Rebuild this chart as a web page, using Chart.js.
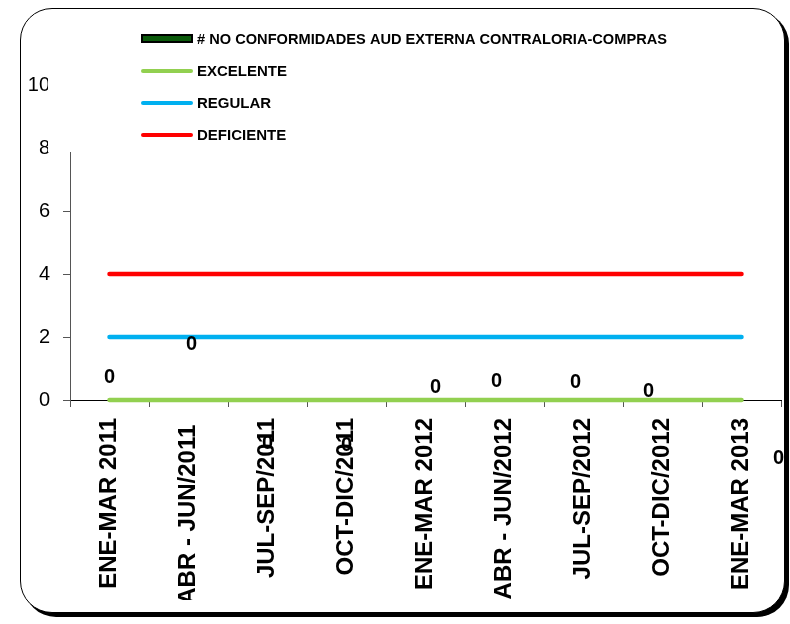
<!DOCTYPE html>
<html>
<head>
<meta charset="utf-8">
<script src="https://cdn.jsdelivr.net/npm/chart.js@4"></script>
<style>
  html, body { margin: 0; padding: 0; background: #fff; }
  #marco {
    position: absolute; left: 20px; top: 8px; width: 763px; height: 603px;
    border: 1.5px solid #000; border-radius: 32px;
    box-shadow: 4px 4px 0 #000; background: #fff;
  }
  #grafico { position: absolute; left: 0; top: 0; }
</style>
</head>
<body>
<div id="marco"></div>
<canvas id="grafico" width="790" height="624"></canvas>
<script>
// datos
const periodos = ['ENE-MAR 2011', 'ABR - JUN/2011 ', 'JUL-SEP/2011', 'OCT-DIC/2011', 'ENE-MAR 2012',
                  'ABR - JUN/2012', 'JUL-SEP/2012', 'OCT-DIC/2012', 'ENE-MAR 2013'];
const noConformidades = [0, 0, 0, 0, 0, 0, 0, 0, 0];
const excelente  = [0, 0, 0, 0, 0, 0, 0, 0, 0];
const regular    = [2, 2, 2, 2, 2, 2, 2, 2, 2];
const deficiente = [4, 4, 4, 4, 4, 4, 4, 4, 4];
const ticksY = [0, 2, 4, 6, 8, 10];

// desplazamiento de las etiquetas "0" (como las dejó Excel)
const despEtiquetas = [[0, -23], [3, -56], [0, 43], [0, 45], [10, -13], [-8, -19], [-8, -18], [-14, -9], [37, 58]];

const FUENTE = "'Liberation Sans', Arial, sans-serif";

const COR = {
  barra: '#0B5A0B',
  excelente: '#92D050',
  regular: '#00B0F0',
  deficiente: '#FF0000',
};

const etiquetasCero = {
  id: 'etiquetasCero',
  afterDatasetsDraw(chart) {
    const ctx = chart.ctx;
    const meta = chart.getDatasetMeta(0);
    ctx.save();
    ctx.font = `bold 20px ${FUENTE}`;
    ctx.fillStyle = '#000';
    ctx.textAlign = 'center';
    ctx.textBaseline = 'middle';
    meta.data.forEach((el, i) => {
      const [dx, dy] = despEtiquetas[i];
      ctx.fillText(String(noConformidades[i]), el.x + dx, el.y + dy);
    });
    ctx.restore();
  }
};

// leyenda encima del área del gráfico, con fondo blanco
const leyenda = {
  id: 'leyenda',
  afterDraw(chart) {
    const ctx = chart.ctx;
    ctx.save();
    ctx.fillStyle = '#fff';
    ctx.fillRect(48, 15, 640, 137);
    ctx.font = `bold 15px ${FUENTE}`;
    ctx.textBaseline = 'middle';
    chart.data.datasets.forEach((ds, i) => {
      const y = 39 + i * 32;
      if (ds.type === 'line') {
        ctx.strokeStyle = ds.borderColor;
        ctx.lineWidth = 4;
        ctx.lineCap = 'round';
        ctx.beginPath();
        ctx.moveTo(143, y);
        ctx.lineTo(191, y);
        ctx.stroke();
      } else {
        ctx.fillStyle = ds.backgroundColor;
        ctx.strokeStyle = '#000';
        ctx.lineWidth = 2;
        ctx.fillRect(142, y - 4, 50, 7);
        ctx.strokeRect(142, y - 4, 50, 7);
      }
      ctx.fillStyle = '#000';
      ctx.fillText(ds.label, 197, y + 1, 470);
    });
    ctx.restore();
  }
};

const linea = (label, data, color) => ({
  type: 'line', label, data,
  borderColor: color, backgroundColor: color,
  borderWidth: 4.5, borderCapStyle: 'round',
  pointRadius: 0, tension: 0, clip: false,
});

new Chart(document.getElementById('grafico'), {
  type: 'bar',
  data: {
    labels: periodos,
    datasets: [
      {
        label: '# NO CONFORMIDADES AUD EXTERNA CONTRALORIA-COMPRAS',
        data: noConformidades,
        backgroundColor: COR.barra,
        borderColor: '#000',
        borderWidth: 1,
        order: 2,
      },
      { ...linea('EXCELENTE', excelente, COR.excelente), order: 1 },
      { ...linea('REGULAR', regular, COR.regular), order: 1 },
      { ...linea('DEFICIENTE', deficiente, COR.deficiente), order: 1 },
    ],
  },
  options: {
    responsive: false,
    animation: false,
    layout: { padding: { left: 20, right: 9, top: 85, bottom: 24 } },
    plugins: { legend: { display: false }, tooltip: { enabled: false } },
    scales: {
      x: {
        afterFit: (s) => { s.height = 200; },
        border: { color: '#000', width: 1 },
        grid: { drawOnChartArea: false, drawTicks: true, tickLength: 7, tickColor: '#555', offset: true },
        ticks: {
          minRotation: 90, maxRotation: 90, autoSkip: false, padding: 11,
          color: '#000', font: { family: FUENTE, size: 24, weight: 'bold' },
        },
      },
      y: {
        min: ticksY[0],
        max: ticksY[ticksY.length - 1],
        afterFit: (s) => { s.width = 50; },
        afterBuildTicks: (s) => { s.ticks = ticksY.map(v => ({ value: v })); },
        border: { color: '#555', width: 1 },
        grid: { drawOnChartArea: false, drawTicks: true, tickLength: 7, tickColor: '#555' },
        ticks: { padding: 13, color: '#000', font: { family: FUENTE, size: 20 } },
      },
    },
  },
  plugins: [etiquetasCero, leyenda],
});
</script>
</body>
</html>
